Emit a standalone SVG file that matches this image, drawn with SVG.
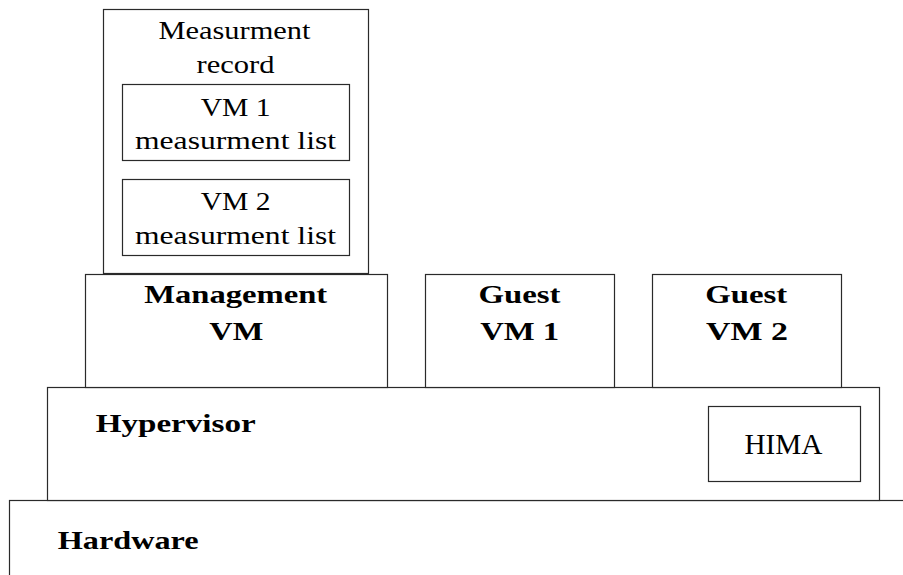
<svg xmlns="http://www.w3.org/2000/svg" width="903" height="575" viewBox="0 0 903 575">
  <style>
    .box { fill: #ffffff; stroke: #2a2a2a; stroke-width: 1.2; }
    .lbl { font-family: "Liberation Serif", "DejaVu Serif", serif; font-size: 26px; fill: #000; text-anchor: middle; }
    .bold { font-weight: bold; }
    .left { text-anchor: start; }
  </style>
  <rect width="903" height="575" fill="#ffffff"/>

  <!-- Hardware layer (runs off the right and bottom edges) -->
  <g id="hardware">
    <rect class="box" x="9.5" y="500.5" width="910" height="100"/>
    <text class="lbl bold left" x="57.7" y="548.7" textLength="141" lengthAdjust="spacingAndGlyphs">Hardware</text>
  </g>

  <!-- Hypervisor layer -->
  <g id="hypervisor">
    <rect class="box" x="47.5" y="387.5" width="832" height="113"/>
    <text class="lbl bold left" x="95.7" y="431.7" textLength="160" lengthAdjust="spacingAndGlyphs">Hypervisor</text>
  </g>

  <g id="hima">
    <rect class="box" x="708.5" y="406.5" width="152" height="75"/>
    <text class="lbl" x="783.5" y="454" textLength="78" lengthAdjust="spacingAndGlyphs" style="font-size:29px">HIMA</text>
  </g>

  <!-- Virtual machines -->
  <g id="management-vm">
    <rect class="box" x="85.5" y="274.5" width="302" height="113"/>
    <text class="lbl bold" x="235.7" y="303.3" textLength="183" lengthAdjust="spacingAndGlyphs">Management</text>
    <text class="lbl bold" x="236.3" y="340" textLength="54" lengthAdjust="spacingAndGlyphs">VM</text>
  </g>

  <g id="guest-vm-1">
    <rect class="box" x="425.5" y="274.5" width="189" height="113"/>
    <text class="lbl bold" x="519.5" y="303.3" textLength="82" lengthAdjust="spacingAndGlyphs">Guest</text>
    <text class="lbl bold" x="519.7" y="340" textLength="79" lengthAdjust="spacingAndGlyphs">VM 1</text>
  </g>

  <g id="guest-vm-2">
    <rect class="box" x="652.5" y="274.5" width="189" height="113"/>
    <text class="lbl bold" x="746.3" y="303.3" textLength="82" lengthAdjust="spacingAndGlyphs">Guest</text>
    <text class="lbl bold" x="747" y="340" textLength="82" lengthAdjust="spacingAndGlyphs">VM 2</text>
  </g>

  <!-- Measurement record held by the management VM -->
  <g id="measurement-record">
    <rect class="box" x="103.5" y="9.5" width="265" height="264"/>
    <text class="lbl" x="234.5" y="39.3" textLength="152" lengthAdjust="spacingAndGlyphs">Measurment</text>
    <text class="lbl" x="235.5" y="73.3" textLength="78" lengthAdjust="spacingAndGlyphs">record</text>
  </g>

  <g id="vm1-list">
    <rect class="box" x="122.5" y="84.5" width="227" height="76"/>
    <text class="lbl" x="235.7" y="116" textLength="70" lengthAdjust="spacingAndGlyphs">VM 1</text>
    <text class="lbl" x="235.5" y="149.3" textLength="201" lengthAdjust="spacingAndGlyphs">measurment list</text>
  </g>

  <g id="vm2-list">
    <rect class="box" x="122.5" y="179.5" width="227" height="76"/>
    <text class="lbl" x="235.7" y="210" textLength="70" lengthAdjust="spacingAndGlyphs">VM 2</text>
    <text class="lbl" x="235.5" y="244.3" textLength="201" lengthAdjust="spacingAndGlyphs">measurment list</text>
  </g>
</svg>
